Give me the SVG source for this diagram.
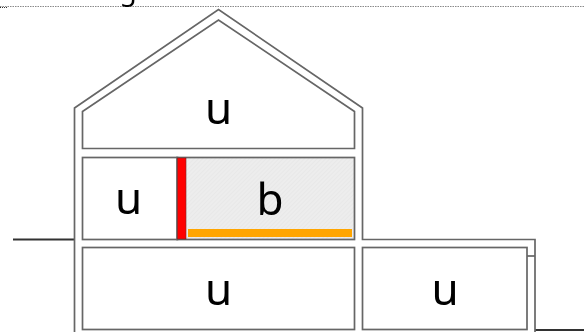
<svg xmlns="http://www.w3.org/2000/svg" width="584" height="332" viewBox="0 0 584 332">
<style>
.w{fill:none;stroke:#666;stroke-width:1.7;stroke-linejoin:miter}
.g{fill:none;stroke:#333;stroke-width:2}
.t{font-family:"Noto Sans","DejaVu Sans",sans-serif;font-size:44px;fill:#000;text-anchor:middle}
</style>
<defs>
<pattern id="h" width="3" height="3" patternUnits="userSpaceOnUse" patternTransform="rotate(-45)">
<rect width="3" height="3" fill="#ededed"/><rect width="3" height="1" fill="#e8e8e8"/>
</pattern>
<filter id="s" x="0" y="0" width="100%" height="100%"><feGaussianBlur stdDeviation="0.4"/></filter>
</defs>
<rect width="584" height="332" fill="#fff"/>
<g filter="url(#s)">
<line x1="0" y1="6.5" x2="584" y2="6.5" stroke="#8a8a8a" stroke-dasharray="1.5 1"/>
<line x1="0" y1="7.5" x2="7" y2="7.5" stroke="#333" stroke-dasharray="1 1"/>
<text x="128" y="0" style="font-family:'Noto Sans',sans-serif;font-size:28px;text-anchor:middle">g</text>
<g id="connectors">
<line class="g" x1="13" y1="239.5" x2="74" y2="239.5"/>
<line class="g" x1="535" y1="330" x2="584" y2="330"/>
<path class="w" d="M74.5 332V108L218.5 9.5L362.5 108V239.5H535V332"/>
<line class="w" x1="527" y1="256" x2="535" y2="256"/>
</g>
<g id="attic">
<path class="w" d="M82.5 111.5L218.5 20L354.5 111.5V148.5H82.5Z"/>
<text class="t" x="218.5" y="124">u</text>
</g>
<g id="room-u">
<rect class="w" x="82.5" y="157.5" width="95" height="82"/>
<text class="t" x="128.500" y="214">u</text>
</g>
<g id="room-b">
<rect x="177" y="157.5" width="177.5" height="82" fill="url(#h)" stroke="#666" stroke-width="1.7"/>
<rect x="177.500" y="158" width="8.500" height="81" fill="#f00" stroke="#7a2020" stroke-width="0.6"/>
<rect x="188" y="229" width="164" height="8" fill="#ffa500"/>
<text class="t" x="270" y="215">b</text>
</g>
<g id="basement">
<rect class="w" x="82.5" y="247.5" width="272" height="82"/>
<text class="t" x="218.5" y="305">u</text>
</g>
<g id="annex">
<rect class="w" x="362.5" y="247.5" width="164.5" height="82"/>
<text class="t" x="445" y="305">u</text>
</g>
</g>
</svg>
